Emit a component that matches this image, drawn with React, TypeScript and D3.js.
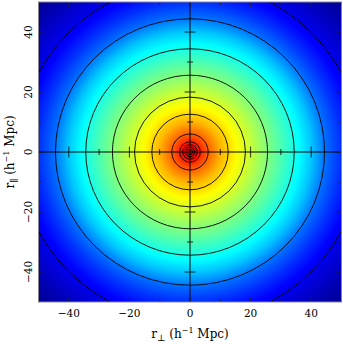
import React from 'react';
import * as d3 from 'd3';

// contour radii (h^-1 Mpc)
const contourRadii = [0.9, 1.6, 2.4, 3.4, 6.0, 12.6, 18.3, 25.6, 34.4, 44.4, 56.5];

// colour level (0..1 on a jet map) against separation
const colourRadius = [0, 2, 5, 10, 15, 20, 25, 30, 35, 40, 45, 50, 56, 65, 75];
const colourLevel = [0.92, 0.88, 0.8, 0.7, 0.63, 0.57, 0.51, 0.45, 0.39, 0.32, 0.23, 0.17, 0.11, 0.05, 0.0];

const tickLabels = [-40, -20, 0, 20, 40];
const minorTicks = [-40, -30, -20, -10, 10, 20, 30, 40];

const width = 343;
const height = 346;

const App = () => {
    const x = d3.scaleLinear().domain([-50, 50]).range([38.5, 341.5]);
    const y = d3.scaleLinear().domain([-50, 50]).range([302, 2]);

    const jet = d3.scaleLinear<string>()
        .domain([0, 0.125, 0.375, 0.625, 0.875, 1])
        .range(['#000080', '#0000ff', '#00ffff', '#ffff00', '#ff0000', '#800000'])
        .clamp(true);
    const level = d3.scaleLinear().domain(colourRadius).range(colourLevel).clamp(true);

    const rMax = 75;
    const stops = d3.range(0, rMax + 0.01, 0.5).map(r => ({ off: r / rMax, col: jet(level(r)) }));

    const cx = x(0);
    const cy = y(0);
    const kx = x(1) - x(0);
    const ky = y(0) - y(1);

    const [x0, x1] = x.range();
    const [y0, y1] = y.range();

    const isMajor = (v: number) => v % 20 === 0;
    const font = 'DejaVu Serif';

    return (
        <svg width={width} height={height} style={{ position: 'absolute', left: 0, top: 0 }}>
            <defs>
                <radialGradient id="bg" gradientUnits="userSpaceOnUse" cx={0} cy={0} r={rMax}
                    gradientTransform={`translate(${cx},${cy}) scale(${kx},${ky})`}>
                    {stops.map((s, i) => <stop key={i} offset={s.off} stopColor={s.col} />)}
                </radialGradient>
                <clipPath id="plot">
                    <rect x={x0} y={y1} width={x1 - x0} height={y0 - y1} />
                </clipPath>
            </defs>
            <rect width={width} height={height} fill="#fff" />
            <g clipPath="url(#plot)">
                <rect x={x0} y={y1} width={x1 - x0} height={y0 - y1} fill="url(#bg)" />
                {contourRadii.map((r, i) => (
                    <ellipse key={i} cx={cx} cy={cy} rx={x(r) - cx} ry={cy - y(r)}
                        fill="none" stroke="#000" strokeWidth={0.9} />
                ))}
                {/* central axes */}
                <line x1={x0} x2={x1} y1={cy} y2={cy} stroke="#000" strokeWidth={1} />
                <line x1={cx} x2={cx} y1={y1} y2={y0} stroke="#000" strokeWidth={1} />
                {minorTicks.map(v => {
                    const l = isMajor(v) ? 5.5 : 3;
                    return (
                        <g key={v} stroke="#000" strokeWidth={0.8}>
                            <line x1={x(v)} x2={x(v)} y1={cy - l} y2={cy + l} />
                            <line x1={cx - l} x2={cx + l} y1={y(v)} y2={y(v)} />
                        </g>
                    );
                })}
            </g>
            {/* frame ticks */}
            {minorTicks.concat([0]).map(v => {
                const l = isMajor(v) ? 5 : 3;
                return (
                    <g key={'f' + v} stroke="#222" strokeWidth={0.8}>
                        <line x1={x(v)} x2={x(v)} y1={y0} y2={y0 - l} />
                        <line x1={x(v)} x2={x(v)} y1={y1} y2={y1 + l} />
                        <line x1={x0} x2={x0 + l} y1={y(v)} y2={y(v)} />
                        <line x1={x1} x2={x1 - l} y1={y(v)} y2={y(v)} />
                    </g>
                );
            })}
            <rect x={x0} y={y1} width={x1 - x0} height={y0 - y1} fill="none" stroke="#888" strokeWidth={1} />
            {/* tick labels */}
            {tickLabels.map(v => (
                <text key={'xl' + v} x={x(v)} y={317} textAnchor="middle" fontFamily={font} fontSize={10.5} fill="#000">
                    {v < 0 ? '\u2212' + Math.abs(v) : v}
                </text>
            ))}
            {tickLabels.map(v => (
                <text key={'yl' + v} transform={`translate(32,${y(v)}) rotate(-90)`} textAnchor="middle"
                    fontFamily={font} fontSize={10.5} fill="#000">
                    {v < 0 ? '\u2212' + Math.abs(v) : v}
                </text>
            ))}
            <text x={cx} y={338} textAnchor="middle" fontFamily={font} fontSize={12} fill="#000">
                r<tspan fontSize={9} dy={3}>{'\u22a5'}</tspan>
                <tspan dy={-3}>{' (h'}</tspan>
                <tspan fontSize={8} dy={-5}>{'\u22121'}</tspan>
                <tspan dy={5}>{' Mpc)'}</tspan>
            </text>
            <text transform={`translate(14,${cy}) rotate(-90)`} textAnchor="middle" fontFamily={font} fontSize={12} fill="#000">
                r<tspan fontSize={9} dy={3}>{'\u2225'}</tspan>
                <tspan dy={-3}>{' (h'}</tspan>
                <tspan fontSize={8} dy={-5}>{'\u22121'}</tspan>
                <tspan dy={5}>{' Mpc)'}</tspan>
            </text>
        </svg>
    );
};

export default App;
